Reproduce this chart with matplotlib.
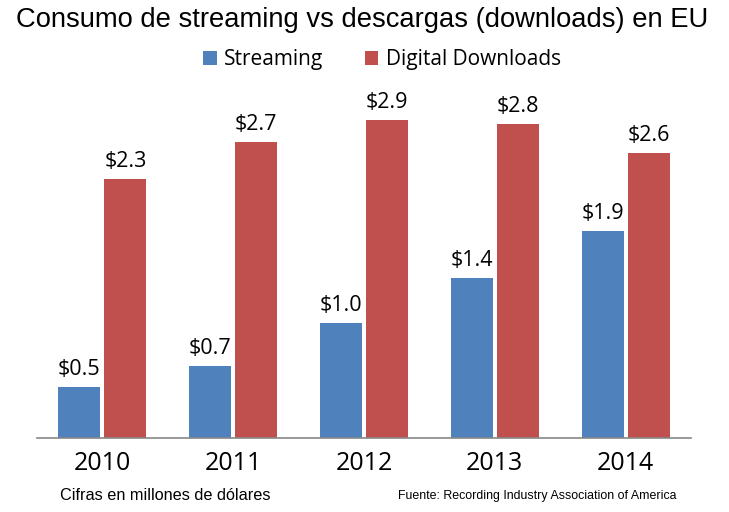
import matplotlib.pyplot as plt
import numpy as np

years = ['2010', '2011', '2012', '2013', '2014']
streaming = [0.46, 0.65, 1.04, 1.45, 1.88]
downloads = [2.35, 2.69, 2.89, 2.85, 2.59]
streaming_labels = ['$0.5', '$0.7', '$1.0', '$1.4', '$1.9']
downloads_labels = ['$2.3', '$2.7', '$2.9', '$2.8', '$2.6']

blue = '#4f81bd'
red = '#c0504d'
lab_font = ['Open Sans', 'DejaVu Sans']

fig = plt.figure(figsize=(7.29, 5.12), dpi=100)
ax = fig.add_axes([37 / 729, 1 - 438 / 512, 654 / 729, 358 / 512])

x = np.arange(len(years))
w = 0.32
off = 0.176
b1 = ax.bar(x - off, streaming, w, color=blue, label='Streaming')
b2 = ax.bar(x + off, downloads, w, color=red, label='Digital Downloads')

for bars, labs in ((b1, streaming_labels), (b2, downloads_labels)):
    for rect, t in zip(bars, labs):
        ax.annotate(t, (rect.get_x() + rect.get_width() / 2, rect.get_height()),
                    xytext=(0, 5), textcoords='offset points', ha='center', va='bottom',
                    fontsize=15.5, family=lab_font)

ax.set_xlim(-0.5, 4.5)
ax.set_ylim(0, 3.25)
ax.set_yticks([])
ax.set_xticks(x)
ax.set_xticklabels(years, fontsize=18, family=lab_font)
ax.tick_params(axis='x', length=0, pad=9)
for s in ['top', 'right', 'left']:
    ax.spines[s].set_visible(False)
ax.spines['bottom'].set_color('#888888')
ax.spines['bottom'].set_linewidth(1.2)

fig.text(362 / 729, 1 - 20 / 512, 'Consumo de streaming vs descargas (downloads) en EU',
         ha='center', va='center', fontsize=19.7, family='Liberation Sans')
fig.legend(handles=[b1, b2], loc='center', bbox_to_anchor=(382 / 729, 1 - 60 / 512),
           ncol=2, frameon=False, prop={'family': lab_font, 'size': 15},
           handlelength=0.65, handleheight=0.65, handletextpad=0.35, columnspacing=2.0)
fig.text(60 / 729, 1 - 496 / 512, 'Cifras en millones de dólares',
         ha='left', va='center', fontsize=11.7, family='Liberation Sans')
fig.text(676 / 729, 1 - 496 / 512, 'Fuente: Recording Industry Association of America',
         ha='right', va='center', fontsize=8.9, family=['Liberation Sans Narrow', 'Liberation Sans'])

fig.savefig('out.png', dpi=100)
